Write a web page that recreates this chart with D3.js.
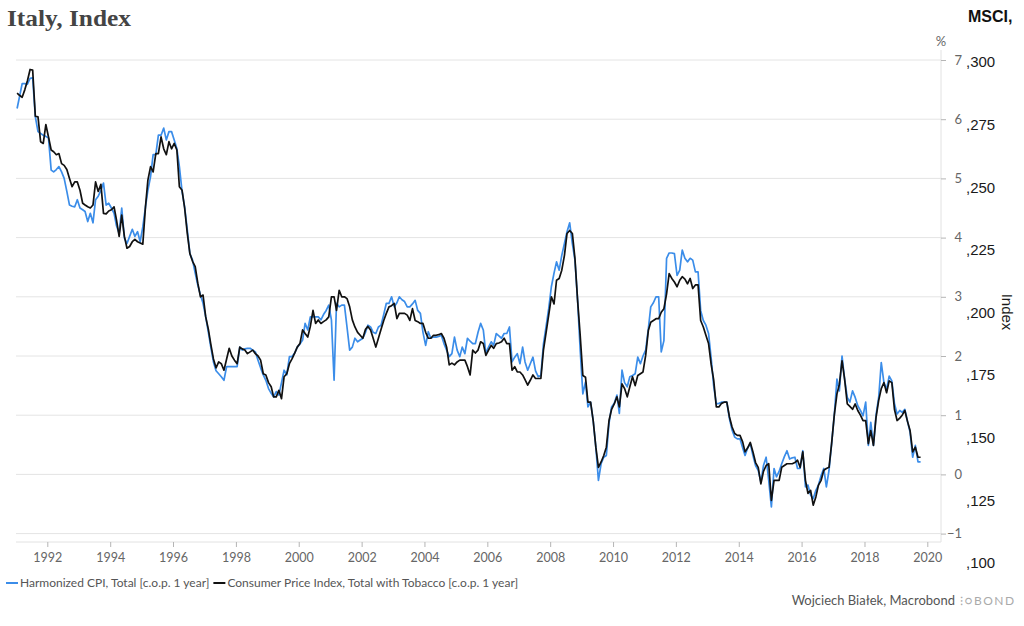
<!DOCTYPE html>
<html>
<head>
<meta charset="utf-8">
<title>Italy, Index</title>
<script src="https://cdnjs.cloudflare.com/ajax/libs/d3/7.8.5/d3.min.js"></script>
<style>
  body { margin: 0; background: #fff; }
  svg { display: block; }
  .grid line { stroke: #e4e4e4; stroke-width: 1; }
  .frame { stroke: #e2e2e2; stroke-width: 1; }
  .xaxis line, .paxis line { stroke: #b5b5b5; }
  .xaxis text, .paxis text { fill: #666; font-family: Lato, "Noto Sans", sans-serif; }
  .iaxis text { fill: #1a1a1a; font-family: "Liberation Sans", Arial, sans-serif; font-size: 15px; }
  .legend text { fill: #555; font-family: Lato, "Noto Sans", sans-serif; font-size: 12px; }
</style>
</head>
<body>
<svg id="chart" width="1024" height="626"></svg>
<script>
// monthly values from Jan 1991, one row per year
const startYear = 1991;

const hicp = [
  6.18, 6.40, 6.60, 6.60, 6.59, 6.69, 6.70, 6.04, 5.79, 5.76, 5.73, 5.71,
  5.68, 5.14, 5.11, 5.15, 5.20, 5.11, 5.00, 4.78, 4.55, 4.53, 4.52, 4.64,
  4.50, 4.47, 4.44, 4.27, 4.41, 4.25, 4.64, 4.70, 4.80, 4.92, 4.55, 4.58,
  4.50, 4.41, 4.20, 4.07, 4.50, 3.99, 3.90, 4.02, 4.14, 4.02, 4.10, 3.93,
  4.18, 4.52, 4.80, 5.03, 5.40, 5.40, 5.73, 5.73, 5.85, 5.65, 5.79, 5.79,
  5.65, 5.50, 5.20, 4.78, 4.52, 4.13, 3.73, 3.62, 3.40, 3.20, 3.03, 2.89,
  2.66, 2.40, 2.15, 1.90, 1.75, 1.70, 1.65, 1.59, 1.82, 1.82, 1.82, 1.82,
  1.82, 2.15, 2.10, 2.12, 2.13, 2.13, 2.10, 2.07, 1.93, 1.80, 1.68, 1.59,
  1.45, 1.37, 1.31, 1.40, 1.34, 1.55, 1.76, 1.68, 1.99, 1.99, 2.05, 2.15,
  2.20, 2.27, 2.55, 2.44, 2.66, 2.66, 2.66, 2.66, 2.61, 2.70, 2.77, 2.86,
  2.61, 1.59, 2.89, 2.83, 2.86, 2.86, 2.49, 2.10, 2.15, 2.30, 2.24, 2.27,
  2.30, 2.40, 2.52, 2.49, 2.40, 2.38, 2.49, 2.52, 2.70, 2.89, 2.89, 3.00,
  2.83, 2.90, 3.00, 2.95, 2.92, 2.83, 2.83, 2.88, 2.94, 2.77, 2.72, 2.40,
  2.18, 2.41, 2.30, 2.32, 2.32, 2.33, 2.35, 2.21, 2.10, 1.99, 2.04, 2.32,
  2.10, 1.99, 2.15, 2.04, 2.30, 2.25, 2.21, 2.21, 2.40, 2.55, 2.44, 2.04,
  2.15, 2.24, 2.18, 2.38, 2.34, 2.30, 2.38, 2.38, 2.49, 1.90, 1.98, 2.04,
  1.87, 2.15, 1.90, 1.76, 1.87, 1.98, 1.75, 1.65, 1.67, 2.20, 2.50, 2.80,
  3.17, 3.40, 3.59, 3.45, 3.70, 3.90, 4.10, 4.25, 3.90, 3.62, 2.94, 2.10,
  1.36, 1.56, 1.14, 1.22, 0.91, 0.46, -0.10, 0.18, 0.29, 0.32, 0.86, 1.14,
  1.20, 1.34, 1.03, 1.76, 1.55, 1.48, 1.65, 1.67, 1.70, 1.98, 1.87, 2.00,
  2.10, 2.46, 2.83, 2.90, 3.00, 3.00, 2.07, 2.26, 3.65, 3.74, 3.74, 3.73,
  3.36, 3.45, 3.79, 3.65, 3.59, 3.65, 3.62, 3.42, 3.42, 2.77, 2.60, 2.52,
  2.38, 1.95, 1.50, 1.19, 1.20, 1.22, 1.22, 1.22, 0.94, 0.75, 0.63, 0.60,
  0.60, 0.45, 0.32, 0.45, 0.52, 0.32, 0.15, 0.07, -0.13, 0.15, 0.29, -0.10,
  -0.55, 0.10, -0.04, 0.05, 0.18, 0.30, 0.40, 0.26, 0.28, 0.29, 0.10, 0.10,
  0.40, -0.21, -0.18, -0.35, -0.41, -0.27, -0.18, -0.02, 0.10, -0.21, 0.07, 0.52,
  1.00, 1.61, 1.41, 2.00, 1.61, 1.30, 1.22, 1.41, 1.30, 1.16, 1.08, 0.99,
  1.22, 0.49, 0.88, 0.49, 1.00, 1.30, 1.89, 1.55, 1.44, 1.66, 1.58, 1.20,
  1.02, 1.08, 1.05, 1.10, 0.90, 0.71, 0.29, 0.49, 0.21, 0.21
];

const cpi = [
  6.44, 6.40, 6.37, 6.50, 6.65, 6.84, 6.83, 6.05, 6.04, 5.62, 5.59, 5.91,
  5.70, 5.48, 5.45, 5.40, 5.42, 5.25, 5.22, 5.15, 5.00, 4.86, 4.94, 4.94,
  4.80, 4.58, 4.55, 4.52, 4.50, 4.55, 4.94, 4.78, 4.90, 4.41, 4.40, 4.45,
  4.47, 4.52, 4.30, 4.02, 4.38, 4.02, 3.82, 3.85, 3.93, 3.97, 3.93, 3.91,
  3.89, 4.52, 4.97, 5.20, 5.11, 5.42, 5.42, 5.70, 5.50, 5.40, 5.62, 5.50,
  5.59, 5.48, 4.86, 4.80, 4.50, 4.07, 3.73, 3.60, 3.51, 3.23, 3.00, 3.03,
  2.66, 2.45, 2.20, 1.95, 1.80, 1.90, 1.87, 1.76, 1.95, 2.13, 2.00, 1.93,
  1.87, 2.15, 2.12, 2.10, 2.04, 2.07, 2.10, 2.04, 2.00, 1.93, 1.70, 1.68,
  1.55, 1.48, 1.31, 1.31, 1.42, 1.28, 1.65, 1.70, 1.87, 1.95, 2.05, 2.15,
  2.21, 2.44, 2.38, 2.32, 2.50, 2.77, 2.55, 2.61, 2.55, 2.58, 2.61, 2.66,
  3.00, 3.00, 2.77, 3.11, 3.00, 3.00, 2.97, 2.83, 2.61, 2.49, 2.40, 2.35,
  2.30, 2.45, 2.50, 2.44, 2.30, 2.15, 2.30, 2.45, 2.60, 2.72, 2.83, 2.85,
  2.89, 2.63, 2.72, 2.72, 2.72, 2.69, 2.60, 2.80, 2.60, 2.58, 2.55, 2.55,
  2.40, 2.30, 2.30, 2.35, 2.35, 2.36, 2.38, 2.30, 2.15, 1.85, 1.88, 1.85,
  1.90, 1.93, 1.93, 1.93, 1.82, 1.68, 2.10, 2.05, 2.10, 2.24, 2.21, 2.01,
  2.10, 2.18, 2.13, 2.21, 2.22, 2.24, 2.30, 2.21, 2.21, 1.76, 1.82, 1.73,
  1.73, 1.68, 1.60, 1.51, 1.59, 1.68, 1.62, 1.62, 1.62, 2.10, 2.40, 2.69,
  3.00, 2.88, 3.28, 3.31, 3.45, 3.70, 4.07, 4.12, 4.07, 3.65, 2.94, 2.35,
  1.67, 1.64, 1.22, 1.22, 0.91, 0.46, 0.12, 0.21, 0.32, 0.46, 0.91, 1.10,
  1.19, 1.31, 1.14, 1.53, 1.45, 1.31, 1.48, 1.65, 1.50, 1.67, 1.70, 1.73,
  2.01, 2.43, 2.57, 2.60, 2.63, 2.63, 2.74, 2.80, 3.05, 3.39, 3.31, 3.25,
  3.17, 3.28, 3.34, 3.30, 3.22, 3.31, 3.14, 3.20, 3.20, 2.60, 2.49, 2.35,
  2.21, 1.85, 1.60, 1.14, 1.14, 1.20, 1.22, 1.22, 0.97, 0.80, 0.69, 0.66,
  0.66, 0.55, 0.38, 0.45, 0.54, 0.38, 0.20, 0.12, -0.16, 0.05, 0.15, 0.18,
  -0.44, -0.10, -0.10, -0.10, 0.12, 0.15, 0.18, 0.18, 0.18, 0.20, 0.24, 0.12,
  0.38, -0.10, -0.32, -0.27, -0.52, -0.38, -0.18, -0.10, 0.07, 0.10, 0.12, 0.52,
  1.00, 1.36, 1.52, 1.92, 1.61, 1.19, 1.15, 1.10, 1.19, 1.08, 1.00, 0.91,
  0.91, 0.52, 0.74, 0.49, 0.96, 1.25, 1.45, 1.55, 1.38, 1.58, 1.55, 1.10,
  0.91, 0.95, 1.00, 1.08, 0.90, 0.74, 0.38, 0.46, 0.29, 0.29
];

const pctTicks = [-1, 0, 1, 2, 3, 4, 5, 6, 7];
const yearTicks = [1992, 1994, 1996, 1998, 2000, 2002, 2004, 2006, 2008, 2010, 2012, 2014, 2016, 2018, 2020];
const msciTicks = [100, 125, 150, 175, 200, 225, 250, 275, 300];
const seriesNames = ["Harmonized CPI, Total [c.o.p. 1 year]", "Consumer Price Index, Total with Tobacco [c.o.p. 1 year]"];
const seriesColors = ["#3b8de9", "#111111"];

const svg = d3.select("#chart");
const plotLeft = 16, plotRight = 941, plotTop = 50, plotBottom = 542;

const x = d3.scaleTime()
    .domain([new Date(1992, 0, 1), new Date(2020, 0, 1)])
    .range([47.3, 927.3]);
const y = d3.scaleLinear().domain([-1, 7]).range([533.6, 60]);
const yIdx = d3.scaleLinear().domain([100, 300]).range([563, 62]);

const toPoints = vals => vals.map((v, i) => ({ date: new Date(startYear, i, 15), v: v }));

// gridlines
svg.append("g").attr("class", "grid")
  .selectAll("line").data(pctTicks).enter().append("line")
    .attr("x1", plotLeft).attr("x2", plotRight)
    .attr("y1", d => y(d)).attr("y2", d => y(d));

svg.append("line").attr("class", "frame")
    .attr("x1", plotLeft).attr("x2", plotRight).attr("y1", plotBottom).attr("y2", plotBottom);
svg.append("line").attr("class", "frame")
    .attr("x1", plotRight).attr("x2", plotRight).attr("y1", plotTop).attr("y2", plotBottom);

// bottom axis
const xAxis = svg.append("g").attr("class", "xaxis")
    .attr("transform", `translate(0,${plotBottom})`)
    .call(d3.axisBottom(x)
      .tickValues(yearTicks.map(yr => new Date(yr, 0, 1)))
      .tickSize(5)
      .tickFormat(d3.timeFormat("%Y")));
xAxis.select(".domain").remove();
xAxis.selectAll("text").attr("y", 11).style("font-size", "12.5px");

// percent axis
const pAxis = svg.append("g").attr("class", "paxis")
    .attr("transform", `translate(${plotRight},0)`)
    .call(d3.axisRight(y).tickValues(pctTicks).tickSize(5));
pAxis.select(".domain").remove();
pAxis.selectAll("text").attr("x", 21).attr("text-anchor", "end").style("font-size", "13px");

svg.append("text").attr("x", plotRight).attr("y", 46)
    .attr("text-anchor", "middle")
    .style("font-family", "Lato, sans-serif").style("font-size", "13px").style("fill", "#666")
    .text("%");

// index axis (clipped MSCI labels)
const iAxis = svg.append("g").attr("class", "iaxis")
    .attr("transform", "translate(966,0)")
    .call(d3.axisRight(yIdx).tickValues(msciTicks).tickSize(0).tickPadding(0)
      .tickFormat(d => "," + d));
iAxis.select(".domain").remove();

svg.append("text")
    .attr("transform", "translate(1002,312) rotate(90)")
    .attr("text-anchor", "middle")
    .style("font-family", "Liberation Sans, Arial, sans-serif").style("font-size", "15px").style("fill", "#1a1a1a")
    .text("Index");

svg.append("text").attr("x", 968).attr("y", 22)
    .style("font-family", "Liberation Sans, Arial, sans-serif").style("font-size", "16px")
    .style("font-weight", "bold").style("fill", "#111")
    .text("MSCI,");

// title
svg.append("text").attr("x", 7).attr("y", 26)
    .attr("textLength", 124).attr("lengthAdjust", "spacingAndGlyphs")
    .style("font-family", "Liberation Serif, Georgia, serif").style("font-size", "23px")
    .style("font-weight", "bold").style("fill", "#444")
    .text("Italy, Index");

// lines
const line = d3.line().x(d => x(d.date)).y(d => y(d.v));
[hicp, cpi].forEach((vals, i) => {
  svg.append("path")
    .datum(toPoints(vals))
    .attr("fill", "none")
    .attr("stroke", seriesColors[i])
    .attr("stroke-width", 1.7)
    .attr("stroke-linejoin", "round")
    .attr("d", line);
});

// legend
const legend = svg.append("g").attr("class", "legend");
let lx = 6;
seriesNames.forEach((name, i) => {
  legend.append("line")
    .attr("x1", lx).attr("x2", lx + 12).attr("y1", 583).attr("y2", 583)
    .attr("stroke", seriesColors[i]).attr("stroke-width", 2);
  const t = legend.append("text").attr("x", lx + 14).attr("y", 587).text(name);
  lx += 14 + t.node().getComputedTextLength() + 4;
});

// credit
svg.append("text").attr("x", 955).attr("y", 605)
    .attr("text-anchor", "end")
    .style("font-family", "Lato, sans-serif").style("font-size", "13px").style("fill", "#555")
    .text("Wojciech Białek, Macrobond");
svg.append("text").attr("x", 960).attr("y", 605)
    .style("font-family", "Lato, sans-serif").style("font-size", "12px").style("fill", "#aaa")
    .style("letter-spacing", "1.5px")
    .text("⁝○BOND");
</script>
</body>
</html>
